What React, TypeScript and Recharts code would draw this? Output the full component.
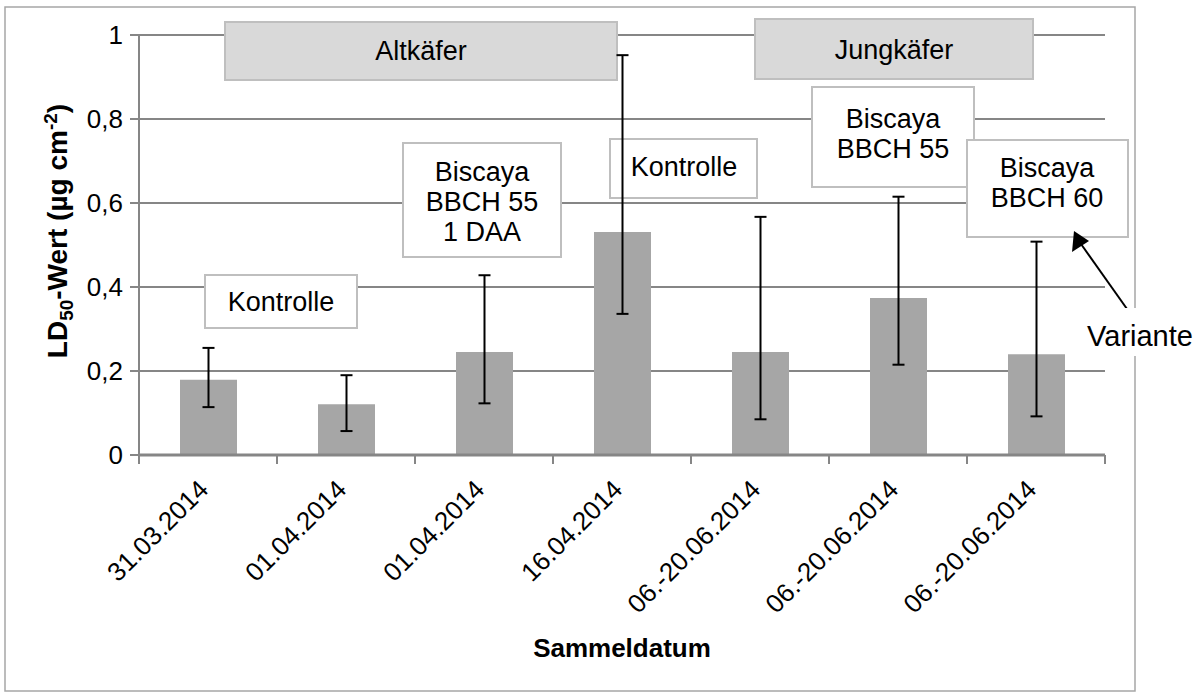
import * as React from "react";
import {
  Bar,
  BarChart,
  CartesianGrid,
  Customized,
  ErrorBar,
  XAxis,
  YAxis,
} from "recharts";

const categories = [
  "31.03.2014",
  "01.04.2014",
  "01.04.2014",
  "16.04.2014",
  "06.-20.06.2014",
  "06.-20.06.2014",
  "06.-20.06.2014",
];
const ld50 = [0.179, 0.121, 0.245, 0.531, 0.245, 0.374, 0.24];
const lower = [0.114, 0.057, 0.123, 0.336, 0.085, 0.215, 0.092];
const upper = [0.255, 0.19, 0.428, 0.952, 0.567, 0.615, 0.508];
const yTicks = [0, 0.2, 0.4, 0.6, 0.8, 1];

const WIDTH = 1197;
const HEIGHT = 693;
const PLOT_LEFT = 139;
const PLOT_RIGHT = 1105;
const PLOT_TOP = 35;
const PLOT_BOTTOM = 455;
const BAND = (PLOT_RIGHT - PLOT_LEFT) / categories.length;
const AXIS_GREY = "#868686";
const FONT = "'Liberation Sans', Arial, sans-serif";

type Note = {
  x: number;
  y: number;
  w: number;
  h: number;
  lines: string[];
  lineY: number[];
  cx: number;
  shaded?: boolean;
};

// text boxes drawn on top of the plot (pixel layout)
const notes: Note[] = [
  { x: 225, y: 22, w: 392, h: 58, lines: ["Altkäfer"], lineY: [51], cx: 421, shaded: true },
  { x: 755, y: 19, w: 278, h: 60, lines: ["Jungkäfer"], lineY: [50], cx: 894, shaded: true },
  { x: 205, y: 275, w: 152, h: 53, lines: ["Kontrolle"], lineY: [302], cx: 281 },
  { x: 403, y: 143, w: 158, h: 114, lines: ["Biscaya", "BBCH 55", "1 DAA"], lineY: [172, 202, 232], cx: 482 },
  { x: 610, y: 139, w: 147, h: 59, lines: ["Kontrolle"], lineY: [167], cx: 684 },
  { x: 812, y: 87, w: 162, h: 100, lines: ["Biscaya", "BBCH 55"], lineY: [119, 149], cx: 893 },
  { x: 967, y: 140, w: 161, h: 97, lines: ["Biscaya", "BBCH 60"], lineY: [168, 198], cx: 1047 },
];

const data = categories.map((name, i) => ({
  name,
  ld50: ld50[i],
  err: [ld50[i] - lower[i], upper[i] - ld50[i]],
}));

function Annotations() {
  return (
    <g fontFamily={FONT}>
      <rect x={5} y={7} width={1130} height={684} fill="none" stroke="#a6a6a6" strokeWidth={1.5} />
      {notes.map((n, i) => (
        <g key={i}>
          <rect
            x={n.x}
            y={n.y}
            width={n.w}
            height={n.h}
            fill={n.shaded ? "#d9d9d9" : "#ffffff"}
            stroke="#bfbfbf"
            strokeWidth={2}
          />
          {n.lines.map((line, j) => (
            <text key={j} x={n.cx} y={n.lineY[j]} dy="0.35em" textAnchor="middle" fontSize={27} fill="#000">
              {line}
            </text>
          ))}
        </g>
      ))}
      <line x1={1132} y1={316} x2={1081} y2={244} stroke="#000" strokeWidth={2} />
      <polygon points="1074,231 1072,252 1089,241" fill="#000" />
      <rect x={1083} y={308} width={114} height={48} fill="#fff" />
      <text x={1140} y={346} textAnchor="middle" fontSize={29} fill="#000">
        Variante
      </text>
    </g>
  );
}

function DateTick(props: any) {
  const { x, y, payload, index } = props;
  const half = BAND / 2;
  const tx = x + 2;
  const ty = y + 36;
  return (
    <g>
      <line x1={x - half} y1={y} x2={x - half} y2={y + 9} stroke={AXIS_GREY} strokeWidth={2} />
      {index === categories.length - 1 && (
        <line x1={x + half} y1={y} x2={x + half} y2={y + 9} stroke={AXIS_GREY} strokeWidth={2} />
      )}
      <text
        x={tx}
        y={ty}
        transform={`rotate(-45, ${tx}, ${ty})`}
        textAnchor="end"
        fontSize={26}
        fill="#000"
      >
        {payload.value}
      </text>
    </g>
  );
}

function YTitle() {
  return (
    <text
      transform="translate(67, 231) rotate(-90)"
      textAnchor="middle"
      fontSize={28}
      fontWeight="bold"
      fill="#000"
    >
      LD
      <tspan dy={6} fontSize={19}>
        50
      </tspan>
      <tspan dy={-6}>-Wert (µg cm</tspan>
      <tspan dy={-10} fontSize={19}>
        -2
      </tspan>
      <tspan dy={10}>)</tspan>
    </text>
  );
}

function XTitle() {
  return (
    <text x={(PLOT_LEFT + PLOT_RIGHT) / 2} y={657} textAnchor="middle" fontSize={26} fontWeight="bold" fill="#000">
      Sammeldatum
    </text>
  );
}

export default function App() {
  return (
    <div style={{ position: "absolute", left: 0, top: 0, width: WIDTH, height: HEIGHT, background: "#fff" }}>
      <BarChart
        width={WIDTH}
        height={HEIGHT}
        data={data}
        margin={{ top: PLOT_TOP, right: WIDTH - PLOT_RIGHT, bottom: 0, left: 0 }}
        style={{ fontFamily: FONT }}
      >
        <CartesianGrid vertical={false} stroke={AXIS_GREY} strokeWidth={2} />
        <Customized component={Annotations} />
        <XAxis
          dataKey="name"
          height={HEIGHT - PLOT_BOTTOM}
          interval={0}
          tickLine={false}
          tickSize={0}
          tickMargin={0}
          axisLine={{ stroke: AXIS_GREY, strokeWidth: 3 }}
          tick={<DateTick />}
          label={{ content: <XTitle /> }}
        />
        <YAxis
          width={PLOT_LEFT}
          domain={[0, 1]}
          ticks={yTicks}
          interval={0}
          tickSize={9}
          tickMargin={7}
          tickLine={{ stroke: AXIS_GREY, strokeWidth: 2 }}
          axisLine={{ stroke: AXIS_GREY, strokeWidth: 2 }}
          tick={{ fontSize: 26, fill: "#000" }}
          tickFormatter={(v: number) => String(v).replace(".", ",")}
          label={{ content: <YTitle /> }}
        />
        <Bar dataKey="ld50" fill="#a6a6a6" barSize={57} isAnimationActive={false}>
          <ErrorBar dataKey="err" width={6} stroke="#000" strokeWidth={2} direction="y" />
        </Bar>
      </BarChart>
    </div>
  );
}
